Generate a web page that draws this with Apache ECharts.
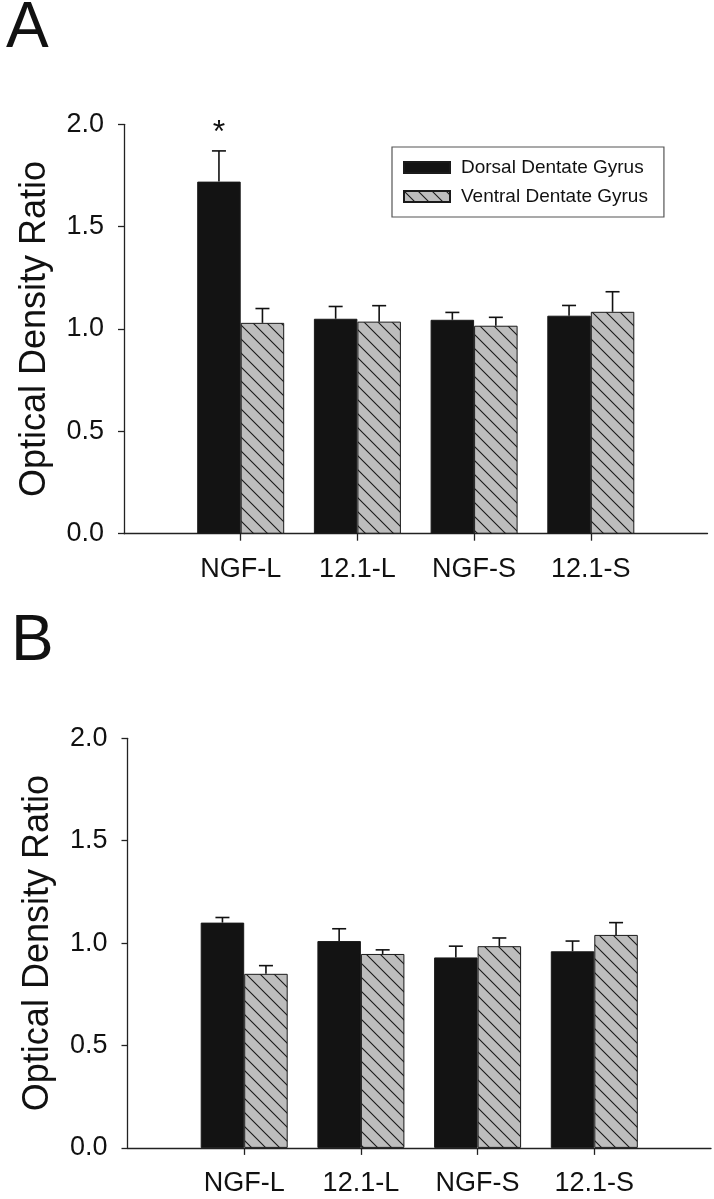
<!DOCTYPE html>
<html><head><meta charset="utf-8">
<script src="https://cdn.jsdelivr.net/npm/echarts@6/dist/echarts.min.js"></script>
<style>html,body{margin:0;padding:0;background:#fff}#c{width:714px;height:1199px}</style>
</head><body><div id="c"></div>
<script>
// ---- data ----
const categories = ['NGF-L', '12.1-L', 'NGF-S', '12.1-S'];
const seriesNames = ['Dorsal Dentate Gyrus', 'Ventral Dentate Gyrus'];
const panelLabels = ['A', 'B'];
const yAxisTitle = 'Optical Density Ratio';
// Panel A
const dorsalA = [1.72, 1.05, 1.045, 1.065];
const dorsalAErr = [0.15, 0.06, 0.036, 0.05];
const ventralA = [1.03, 1.036, 1.016, 1.084];
const ventralAErr = [0.07, 0.078, 0.041, 0.098];
const marksA = ['*', '', '', ''];
// Panel B
const dorsalB = [1.10, 1.01, 0.93, 0.96];
const dorsalBErr = [0.025, 0.06, 0.055, 0.05];
const ventralB = [0.85, 0.947, 0.985, 1.04];
const ventralBErr = [0.04, 0.02, 0.04, 0.06];
const marksB = ['', '', '', ''];

// ---- style ----
const FONT = '"Liberation Sans", Arial, Helvetica, sans-serif';
const BAR_W = 43.5;
const CAP = 7;
const INK = '#111';

function hatch() {
  const s = 14, c = document.createElement('canvas');
  c.width = s; c.height = s;
  const g = c.getContext('2d');
  g.fillStyle = '#bdbdbd'; g.fillRect(0, 0, s, s);
  g.strokeStyle = '#1a1a1a'; g.lineWidth = 1.1;
  g.beginPath();
  g.moveTo(-2, -2); g.lineTo(s + 2, s + 2);
  g.moveTo(-2, s - 2); g.lineTo(2, s + 2);
  g.moveTo(s - 2, -2); g.lineTo(s + 2, 2);
  g.stroke();
  return c;
}
const hatchPattern = { image: hatch(), repeat: 'repeat' };
const darkFill = '#131313';

const pad = arr => ['-', ...arr, '-'];
const axisCats = ['', ...categories, ''];

function barSeries(name, gi, vals, color) {
  return {
    type: 'bar', name, xAxisIndex: gi, yAxisIndex: gi,
    data: pad(vals), barWidth: BAR_W, barGap: '0%', silent: true,
    itemStyle: { color, borderColor: '#1a1a1a', borderWidth: 1 }
  };
}
function errSeries(gi, vals, errs, side, marks) {
  return {
    type: 'custom', xAxisIndex: gi, yAxisIndex: gi, z: 5, silent: true,
    data: categories.map((c, i) => [i + 1, vals[i], vals[i] + errs[i]]),
    renderItem(params, api) {
      const x = api.value(0), v = api.value(1), t = api.value(2);
      const p0 = api.coord([x, v]), p1 = api.coord([x, t]);
      const cx = p0[0] + side * BAR_W / 2;
      const st = { stroke: INK, lineWidth: 1.6 };
      const children = [
        { type: 'line', shape: { x1: cx, y1: p0[1], x2: cx, y2: p1[1] }, style: st },
        { type: 'line', shape: { x1: cx - CAP, y1: p1[1], x2: cx + CAP, y2: p1[1] }, style: st }
      ];
      const m = marks[params.dataIndex];
      if (m) {
        children.push({ type: 'text', x: cx, y: p1[1] - 2,
          style: { text: m, fill: INK, font: '32px ' + FONT, textAlign: 'center', textVerticalAlign: 'bottom' } });
      }
      return { type: 'group', children };
    }
  };
}
function xAxis(gi) {
  return {
    type: 'category', gridIndex: gi, data: axisCats, boundaryGap: false,
    axisLine: { show: true, lineStyle: { color: '#222', width: 1.3 } },
    axisTick: { show: true, interval: (i) => i > 0 && i < axisCats.length - 1, length: 7, lineStyle: { color: '#222', width: 1.3 } },
    axisLabel: { interval: 0, fontSize: 27, color: INK, margin: 22, fontFamily: FONT },
    splitLine: { show: false }
  };
}
function yAxis(gi) {
  return {
    type: 'value', gridIndex: gi, min: 0, max: 2, interval: 0.5,
    axisLine: { show: true, lineStyle: { color: '#222', width: 1.3 } },
    axisTick: { show: true, length: 6, lineStyle: { color: '#222', width: 1.3 } },
    axisLabel: { formatter: v => v.toFixed(1), fontSize: 27, color: INK, margin: 20, fontFamily: FONT },
    splitLine: { show: false },
    name: yAxisTitle, nameLocation: 'middle', nameGap: 71,
    nameTextStyle: { fontSize: 36, color: INK, fontFamily: FONT }
  };
}

const chart = echarts.init(document.getElementById('c'), null, { renderer: 'canvas' });
chart.setOption({
  backgroundColor: '#fff',
  animation: false,
  title: [
    { text: panelLabels[0], left: 6, top: -3, padding: 0, textStyle: { fontSize: 64, fontWeight: 'normal', color: INK, fontFamily: FONT } },
    { text: panelLabels[1], left: 11, top: 610, padding: 0, textStyle: { fontSize: 64, fontWeight: 'normal', color: INK, fontFamily: FONT } }
  ],
  legend: {
    data: seriesNames, orient: 'vertical', left: 392, top: 147,
    itemWidth: 46, itemHeight: 11, itemGap: 10, icon: 'rect',
    padding: [11, 16, 11, 11],
    borderColor: '#555', borderWidth: 1.2,
    textStyle: { fontSize: 19, color: INK, fontFamily: FONT, padding: [0, 0, 0, 6] }
  },
  grid: [
    { left: 124, top: 124.3, width: 583.5, height: 409.4, outerBoundsMode: 'none' },
    { left: 127.5, top: 738.3, width: 583.5, height: 409.6, outerBoundsMode: 'none' }
  ],
  xAxis: [xAxis(0), xAxis(1)],
  yAxis: [yAxis(0), yAxis(1)],
  series: [
    barSeries(seriesNames[0], 0, dorsalA, darkFill),
    barSeries(seriesNames[1], 0, ventralA, hatchPattern),
    errSeries(0, dorsalA, dorsalAErr, -1, marksA),
    errSeries(0, ventralA, ventralAErr, 1, marksA.map(() => '')),
    barSeries(seriesNames[0], 1, dorsalB, darkFill),
    barSeries(seriesNames[1], 1, ventralB, hatchPattern),
    errSeries(1, dorsalB, dorsalBErr, -1, marksB),
    errSeries(1, ventralB, ventralBErr, 1, marksB)
  ]
});
</script>
</body></html>
